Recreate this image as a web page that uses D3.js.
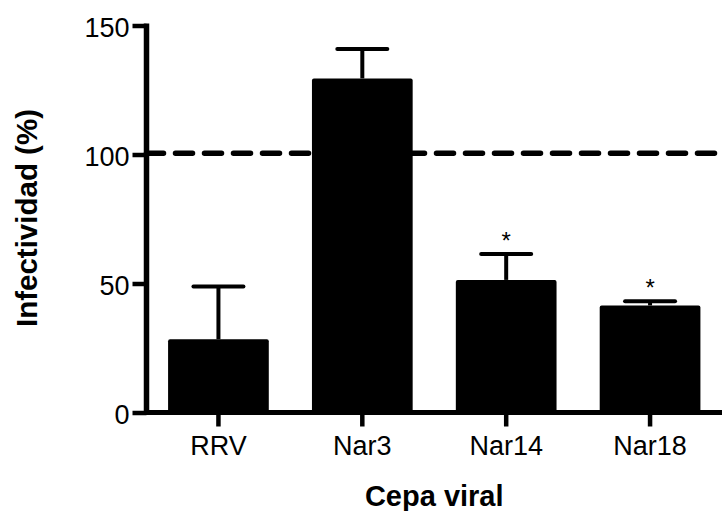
<!DOCTYPE html>
<html>
<head>
<meta charset="utf-8">
<script src="https://cdn.jsdelivr.net/npm/d3@7"></script>
<style>
  html, body { margin: 0; padding: 0; background: #fff; }
  svg { display: block; }
  text { font-family: "Liberation Sans", Arial, Helvetica, sans-serif; fill: #000; }
</style>
</head>
<body>
<svg id="chart" width="727" height="511"></svg>
<script>
// ---- data ----
const categories = ["RRV", "Nar3", "Nar14", "Nar18"];
const means = [28.4, 129.5, 51.4, 41.5];
const errors = [20.4, 11.4, 10.0, 1.6];
const significance = ["", "", "*", "*"];
const yTicks = [0, 50, 100, 150];
const referenceValue = 100.5;
const xTitle = "Cepa viral";
const yTitle = "Infectividad (%)";

(function () {
// ---- layout ----
const svg = d3.select("#chart");
const mLeft = 146.5, mRight = 722, mTop = 25.5, mBottom = 412.5;

const x = d3.scaleBand().domain(categories).range([mLeft, mRight])
  .paddingInner(0.3).paddingOuter(0.15);
const y = d3.scaleLinear().domain([0, 150]).range([mBottom, mTop]);

// reference dashed line
svg.append("line")
  .attr("x1", mLeft).attr("x2", mRight)
  .attr("y1", y(referenceValue)).attr("y2", y(referenceValue))
  .attr("stroke", "#000").attr("stroke-width", 5.5)
  .attr("stroke-dasharray", "17,12").attr("stroke-linecap", "round");

// bars
svg.selectAll("rect.bar").data(categories).enter().append("rect")
  .attr("class", "bar")
  .attr("x", d => x(d))
  .attr("width", x.bandwidth())
  .attr("y", (d, i) => y(means[i]))
  .attr("height", (d, i) => y(0) - y(means[i]))
  .attr("rx", 2).attr("fill", "#000");

// error bars
const capW = 50;
const eb = svg.selectAll("g.err").data(categories).enter().append("g").attr("class", "err");
eb.append("line")
  .attr("x1", d => x(d) + x.bandwidth() / 2).attr("x2", d => x(d) + x.bandwidth() / 2)
  .attr("y1", (d, i) => y(means[i])).attr("y2", (d, i) => y(means[i] + errors[i]))
  .attr("stroke", "#000").attr("stroke-width", 4);
eb.append("line")
  .attr("x1", d => x(d) + x.bandwidth() / 2 - capW / 2).attr("x2", d => x(d) + x.bandwidth() / 2 + capW / 2)
  .attr("y1", (d, i) => y(means[i] + errors[i])).attr("y2", (d, i) => y(means[i] + errors[i]))
  .attr("stroke", "#000").attr("stroke-width", 4).attr("stroke-linecap", "round");

// significance stars
svg.selectAll("text.sig").data(categories).enter().append("text")
  .attr("class", "sig")
  .attr("x", d => x(d) + x.bandwidth() / 2)
  .attr("y", (d, i) => y(means[i] + errors[i]) - 5)
  .attr("text-anchor", "middle")
  .style("font-size", "24px")
  .text((d, i) => significance[i]);

// axes
const yAxis = d3.axisLeft(y).tickValues(yTicks).tickSize(14).tickSizeOuter(0).tickPadding(3);
const gy = svg.append("g").attr("transform", `translate(${mLeft},0)`).call(yAxis);
gy.select(".domain").attr("stroke-width", 5.5).attr("d", `M0,${mBottom + 2.5}V${mTop - 2}`);
gy.selectAll(".tick line").attr("stroke-width", 4.5);
gy.selectAll(".tick text").style("font-size", "27px").attr("dy", "0.42em")
  .style("font-family", '"Liberation Sans", Arial, sans-serif');

const xAxis = d3.axisBottom(x).tickSize(14).tickSizeOuter(0).tickPadding(9);
const gx = svg.append("g").attr("transform", `translate(0,${mBottom})`).call(xAxis);
gx.select(".domain").attr("stroke-width", 5).attr("d", `M${mLeft - 2.5},0H${mRight}`);
gx.selectAll(".tick line").attr("stroke-width", 4.5);
gx.selectAll(".tick text").style("font-size", "27px")
  .style("font-family", '"Liberation Sans", Arial, sans-serif');

// titles
svg.append("text")
  .attr("x", (mLeft + mRight) / 2).attr("y", 506)
  .attr("text-anchor", "middle")
  .style("font-size", "29px").style("font-weight", "bold")
  .text(xTitle);

svg.append("text")
  .attr("transform", `translate(37,218) rotate(-90)`)
  .attr("text-anchor", "middle")
  .style("font-size", "29.5px").style("font-weight", "bold")
  .text(yTitle);
})();
</script>
</body>
</html>
